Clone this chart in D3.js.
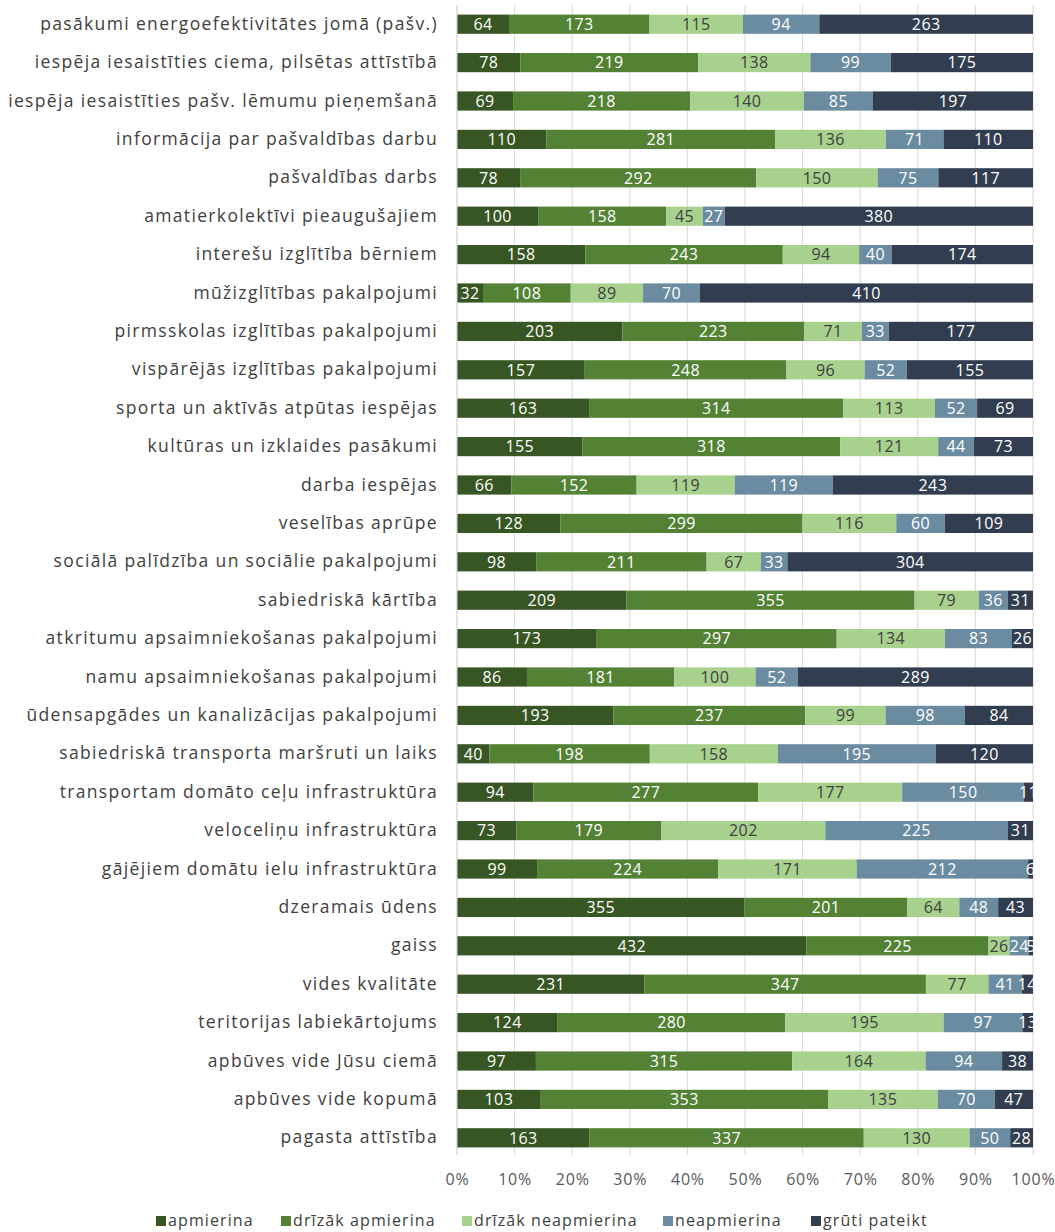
<!DOCTYPE html>
<html>
<head>
<meta charset="utf-8">
<script src="https://cdn.jsdelivr.net/npm/d3@7"></script>
<style>
  body { margin: 0; background: #fff; }
  text { font-family: "Open Sans", sans-serif; }
</style>
</head>
<body>
<div id="chart"></div>
<script>
// categories, top to bottom
var categories = [
  "pasākumi energoefektivitātes jomā (pašv.)",
  "iespēja iesaistīties ciema, pilsētas attīstībā",
  "iespēja iesaistīties pašv. lēmumu pieņemšanā",
  "informācija par pašvaldības darbu",
  "pašvaldības darbs",
  "amatierkolektīvi pieaugušajiem",
  "interešu izglītība bērniem",
  "mūžizglītības pakalpojumi",
  "pirmsskolas izglītības pakalpojumi",
  "vispārējās izglītības pakalpojumi",
  "sporta un aktīvās atpūtas iespējas",
  "kultūras un izklaides pasākumi",
  "darba iespējas",
  "veselības aprūpe",
  "sociālā palīdzība un sociālie pakalpojumi",
  "sabiedriskā kārtība",
  "atkritumu apsaimniekošanas pakalpojumi",
  "namu apsaimniekošanas pakalpojumi",
  "ūdensapgādes un kanalizācijas pakalpojumi",
  "sabiedriskā transporta maršruti un laiks",
  "transportam domāto ceļu infrastruktūra",
  "veloceliņu infrastruktūra",
  "gājējiem domātu ielu infrastruktūra",
  "dzeramais ūdens",
  "gaiss",
  "vides kvalitāte",
  "teritorijas labiekārtojums",
  "apbūves vide Jūsu ciemā",
  "apbūves vide kopumā",
  "pagasta attīstība"
];

var seriesNames = ["apmierina", "drīzāk apmierina", "drīzāk neapmierina", "neapmierina", "grūti pateikt"];

// one array per series, same order as categories
var apmierina = [64, 78, 69, 110, 78, 100, 158, 32, 203, 157, 163, 155, 66, 128, 98, 209, 173, 86, 193, 40, 94, 73, 99, 355, 432, 231, 124, 97, 103, 163];
var drizakApmierina = [173, 219, 218, 281, 292, 158, 243, 108, 223, 248, 314, 318, 152, 299, 211, 355, 297, 181, 237, 198, 277, 179, 224, 201, 225, 347, 280, 315, 353, 337];
var drizakNeapmierina = [115, 138, 140, 136, 150, 45, 94, 89, 71, 96, 113, 121, 119, 116, 67, 79, 134, 100, 99, 158, 177, 202, 171, 64, 26, 77, 195, 164, 135, 130];
var neapmierina = [94, 99, 85, 71, 75, 27, 40, 70, 33, 52, 52, 44, 119, 60, 33, 36, 83, 52, 98, 195, 150, 225, 212, 48, 24, 41, 97, 94, 70, 50];
var gruti = [263, 175, 197, 110, 117, 380, 174, 410, 177, 155, 69, 73, 243, 109, 304, 31, 26, 289, 84, 120, 11, 31, 6, 43, 5, 14, 13, 38, 47, 28];

var tickLabels = ["0%", "10%", "20%", "30%", "40%", "50%", "60%", "70%", "80%", "90%", "100%"];

var colors = ["#375623", "#548235", "#a9d18e", "#6a8ba0", "#323e4f"];
var labelColors = ["#fff", "#fff", "#404040", "#fff", "#fff"];

var width = 1055, height = 1232;
var margin = {top: 5, right: 22, bottom: 75, left: 457};

// build table for the stack
var table = categories.map(function(c, i) {
  return {
    cat: c,
    s0: apmierina[i], s1: drizakApmierina[i], s2: drizakNeapmierina[i],
    s3: neapmierina[i], s4: gruti[i]
  };
});
var keys = ["s0", "s1", "s2", "s3", "s4"];

var stacked = d3.stack().keys(keys).offset(d3.stackOffsetExpand)(table);

var svg = d3.select("#chart")
  .append("svg")
  .attr("width", width)
  .attr("height", height);

var xScale = d3.scaleLinear()
  .domain([0, 1])
  .range([margin.left, width - margin.right]);

var yScale = d3.scaleBand()
  .domain(categories)
  .range([margin.top, height - margin.bottom])
  .paddingInner(0.5)
  .paddingOuter(0.25);

// gridlines
svg.append("g")
  .selectAll("line")
  .data(d3.range(0, 1.01, 0.1))
  .enter().append("line")
  .attr("x1", function(d) { return xScale(d); })
  .attr("x2", function(d) { return xScale(d); })
  .attr("y1", margin.top)
  .attr("y2", height - margin.bottom - 2)
  .attr("stroke", "#d9d9d9")
  .attr("stroke-width", 1);

// bars
var layers = svg.append("g")
  .selectAll("g")
  .data(stacked)
  .enter().append("g")
  .attr("fill", function(d, i) { return colors[i]; });

layers.selectAll("rect")
  .data(function(d) { return d; })
  .enter().append("rect")
  .attr("x", function(d) { return xScale(d[0]); })
  .attr("width", function(d) { return xScale(d[1]) - xScale(d[0]); })
  .attr("y", function(d) { return yScale(d.data.cat); })
  .attr("height", yScale.bandwidth());

// value labels
stacked.forEach(function(layer, i) {
  svg.append("g")
    .selectAll("text")
    .data(layer)
    .enter().append("text")
    .attr("x", function(d) { return (xScale(d[0]) + xScale(d[1])) / 2; })
    .attr("y", function(d) { return yScale(d.data.cat) + yScale.bandwidth() / 2; })
    .attr("dy", "0.36em")
    .attr("text-anchor", "middle")
    .attr("font-size", "16px")
    .attr("letter-spacing", "0.4px")
    .attr("fill", labelColors[i])
    .text(function(d) { return d.data[layer.key]; });
});

// left axis line
svg.append("line")
  .attr("x1", margin.left).attr("x2", margin.left)
  .attr("y1", margin.top).attr("y2", height - margin.bottom - 2)
  .attr("stroke", "#d9d9d9");

// category labels
var yAxis = d3.axisLeft(yScale).tickSize(0).tickPadding(19);
var gY = svg.append("g")
  .attr("transform", "translate(" + margin.left + ",0)")
  .call(yAxis);
gY.select(".domain").remove();
gY.selectAll("text")
  .attr("font-size", "17.5px")
  .attr("letter-spacing", "1.35px")
  .attr("font-family", "Open Sans, sans-serif")
  .attr("fill", "#404040");

// x axis tick labels
var xAxis = d3.axisBottom(xScale)
  .tickValues(d3.range(0, 1.01, 0.1))
  .tickFormat(function(d, i) { return tickLabels[i]; })
  .tickSize(0)
  .tickPadding(17);
var gX = svg.append("g")
  .attr("transform", "translate(0," + (height - margin.bottom) + ")")
  .call(xAxis);
gX.select(".domain").remove();
gX.selectAll("text")
  .attr("font-size", "16px")
  .attr("letter-spacing", "0.8px")
  .attr("font-family", "Open Sans, sans-serif")
  .attr("fill", "#595959");

// legend
var legendX = [156, 281, 462, 663, 811];
var legend = svg.append("g")
  .selectAll("g")
  .data(seriesNames)
  .enter().append("g")
  .attr("transform", function(d, i) { return "translate(" + legendX[i] + "," + 1221 + ")"; });
legend.append("rect")
  .attr("x", 0).attr("y", -5)
  .attr("width", 10).attr("height", 10)
  .attr("fill", function(d, i) { return colors[i]; });
legend.append("text")
  .attr("x", 12)
  .attr("dy", "0.32em")
  .attr("font-size", "16px")
  .attr("letter-spacing", "1.1px")
  .attr("fill", "#404040")
  .text(function(d) { return d; });
</script>
</body>
</html>
